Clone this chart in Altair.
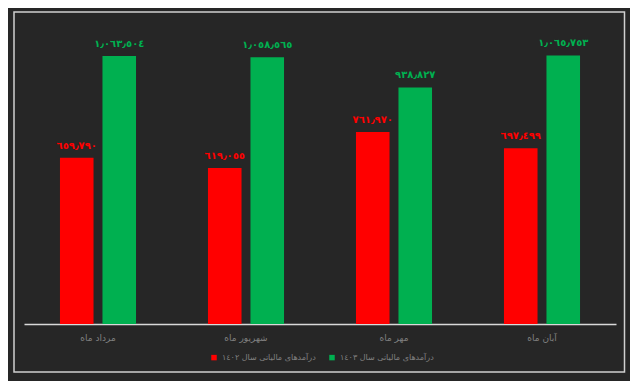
import altair as alt
import pandas as pd

months = ["مرداد ماه", "شهریور ماه", "مهر ماه", "آبان ماه"]
series = ["درآمدهای مالیاتی سال ١٤٠٢", "درآمدهای مالیاتی سال ١٤٠٣"]
values_1402 = [659790, 619055, 761970, 697499]
values_1403 = [1063504, 1058565, 938827, 1065753]
colors = ["#FF0000", "#00B050"]

digits = str.maketrans("0123456789,", "٠١٢٣٤٥٦٧٨٩٫")

rows = []
for s, vals in zip(series, [values_1402, values_1403]):
    for m, v in zip(months, vals):
        rows.append({"month": m, "series": s, "value": v,
                     "label": f"{v:,}".translate(digits)})
df = pd.DataFrame(rows)

FONT = "DejaVu Sans"
GRAY = "#808080"

x = alt.X("month:N", sort=months, title=None,
          scale=alt.Scale(paddingInner=0.486, paddingOuter=0.243),
          axis=alt.Axis(labelAngle=0, ticks=False, domainColor="#d9d9d9",
                        domainWidth=1.5, labelColor=GRAY, labelFontSize=9,
                        labelFontWeight="normal", labelFont=FONT, labelPadding=9))
xo = alt.XOffset("series:N", sort=series,
                 scale=alt.Scale(paddingInner=0.21, paddingOuter=0))
y = alt.Y("value:Q", scale=alt.Scale(domain=[0, 1200000], nice=False), axis=None)
color = alt.Color("series:N", sort=series,
                  scale=alt.Scale(domain=series, range=colors),
                  legend=alt.Legend(title=None, orient="none", direction="horizontal",
                                    legendX=186, legendY=332, symbolType="square",
                                    symbolSize=30, symbolStrokeWidth=0,
                                    labelColor=GRAY, labelFontSize=8,
                                    labelFontWeight="normal", labelFont=FONT,
                                    columnPadding=12, labelOffset=4))

base = alt.Chart(df).encode(x=x, xOffset=xo, y=y, color=color)
bars = base.mark_bar()
texts = base.mark_text(dy=-12, fontSize=10, fontWeight="bold", font=FONT).encode(text="label:N")

frame = alt.Chart(pd.DataFrame({"f": [0]})).mark_rect(
    fill="transparent", stroke="#d0d0d0", strokeWidth=1.5
).encode(x=alt.value(-10), x2=alt.value(600.5), y=alt.value(-9.6), y2=alt.value(350.4))

chart = alt.layer(bars, texts, frame).properties(
    width=592, height=302.4, autosize="none",
    padding={"left": 16, "top": 13.6, "right": 14, "bottom": 57},
    background="#262626",
).configure_view(stroke=None)

chart.save("out.html", embed_options={"renderer": "svg", "actions": False})
